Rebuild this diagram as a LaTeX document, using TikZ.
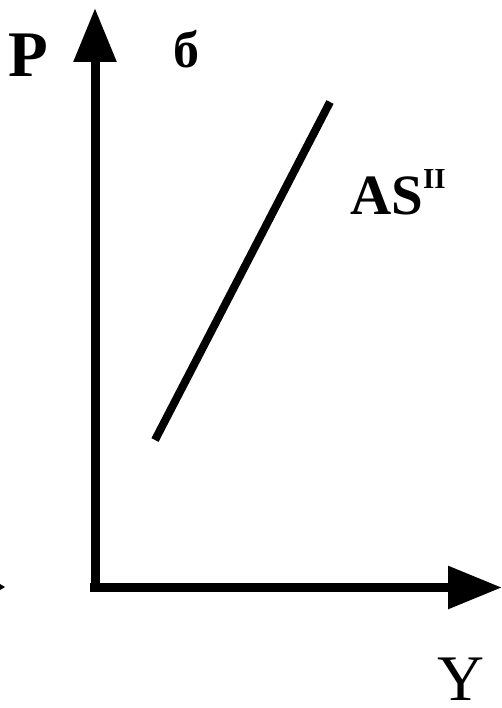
\documentclass[tikz,border=0pt]{standalone}
\usepackage{fontspec}
\setmainfont{Liberation Serif}
\usetikzlibrary{arrows.meta}
\tikzset{
  axis/.style={black,line width=9pt,-{Triangle[length=54pt,width=41pt]}},
  lbl/.style={inner sep=0pt,anchor=base west,text depth=0pt},
}
\newcommand{\bigbf}[1]{\fontsize{#1}{#1}\selectfont\bfseries}

\begin{document}
\begin{tikzpicture}[x=1pt,y=-1pt]
  \useasboundingbox (0,0) rectangle (502,708);
  \coordinate (O) at (95,592); \coordinate (Ptip) at (95,8);
  \coordinate (Ostart) at (90,587.5); \coordinate (Ytip) at (502,587.5);
  \draw[axis] (O)--(Ptip);
  \draw[axis] (Ostart)--(Ytip);
  \coordinate (ASlow) at (155,440); \coordinate (AShigh) at (330,102);
  \draw[black,line width=8pt] (ASlow)--(AShigh);
  \fill[black] (0,584)--(5,587)--(0,590)--cycle;
  \node[lbl] (P) at (8,77) {\bigbf{65}P};
  \node[lbl] (b) at (173,68) {\bigbf{52}б};
  \node[lbl] (AS) at (350,215) {\bigbf{57}AS\raisebox{26pt}{\bigbf{29}II}};
  \node[lbl] (Y) at (437,700) {\fontsize{65}{65}\selectfont Y};
\end{tikzpicture}
\end{document}
